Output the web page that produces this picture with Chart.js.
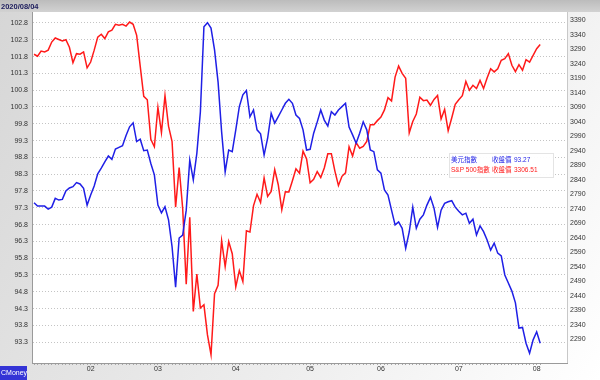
<!DOCTYPE html>
<html>
<head>
<meta charset="utf-8">
<title>美元指數 vs S&amp;P 500指數</title>
<script src="https://cdn.jsdelivr.net/npm/chart.js@4.4.1/dist/chart.umd.min.js"></script>
<style>
  html, body { margin: 0; padding: 0; background: #fff; }
  #wrap { width: 600px; height: 380px; }
</style>
</head>
<body>
<div id="wrap"><canvas id="chart" width="600" height="380"></canvas></div>
<script>
// trading days shown per month (Jan starts on the 9th)
const months = ['01', '02', '03', '04', '05', '06', '07', '08'];
const monthDays = [16, 19, 22, 21, 20, 22, 22, 2];

// US dollar index close (left axis)
const dxyClose = [
    97.45, 97.35, 97.35, 97.35, 97.26, 97.32, 97.58, 97.53, 97.55, 97.80, 97.89, 97.93, 98.05, 98.01, 97.88, 97.38,
    97.68, 97.95, 98.31, 98.48, 98.67, 98.84, 98.74, 99.05, 99.10, 99.15, 99.45, 99.71, 99.83, 99.27, 99.34, 99.00, 99.02, 98.62, 98.28,
    97.38, 97.15, 97.33, 96.94, 96.14, 94.94, 96.40, 96.49, 97.23, 98.72, 98.13, 98.92, 100.16, 102.69, 102.81, 102.65, 102.00, 101.04, 99.56, 98.37, 99.02, 98.97,
    99.62, 100.31, 100.66, 100.79, 100.01, 100.21, 99.62, 99.50, 98.87, 99.37, 100.11, 99.82, 100.01, 100.21, 100.41, 100.53, 100.41, 100.06, 99.96, 99.62, 99.02,
    99.04, 99.52, 99.85, 100.21, 99.91, 99.73, 100.16, 100.06, 100.21, 100.31, 100.41, 99.70, 99.47, 99.22, 99.52, 99.86, 99.62, 99.02, 98.97, 98.43,
    98.33, 97.83, 97.68, 97.23, 96.79, 96.88, 96.69, 96.09, 96.58, 97.32, 96.69, 96.96, 97.09, 97.38, 97.61, 97.29, 96.72, 97.23, 97.43, 97.48, 97.51, 97.32,
    97.20, 97.09, 97.14, 96.84, 96.96, 96.49, 96.76, 96.59, 96.34, 96.04, 96.25, 95.95, 95.87, 95.30, 95.06, 94.82, 94.47, 93.72, 93.74, 93.27, 92.97, 93.37,
    93.61, 93.27
];

// S&P 500 close (right axis)
const spxClose = [
    3273, 3266, 3284, 3281, 3287, 3315, 3329, 3324, 3319, 3323, 3297, 3244, 3275, 3273, 3281, 3226,
    3246, 3287, 3332, 3342, 3327, 3350, 3356, 3376, 3373, 3376, 3370, 3384, 3376, 3338, 3232, 3128, 3116, 2980, 2954,
    3090, 3003, 3130, 3025, 2972, 2746, 2882, 2741, 2480, 2711, 2386, 2515, 2398, 2409, 2305, 2237, 2447, 2476, 2630, 2541, 2627, 2585,
    2471, 2527, 2489, 2664, 2660, 2750, 2790, 2762, 2846, 2783, 2800, 2875, 2823, 2737, 2799, 2798, 2837, 2878, 2863, 2939, 2912,
    2830, 2842, 2868, 2848, 2881, 2930, 2930, 2870, 2820, 2852, 2864, 2954, 2922, 2968, 2949, 2955, 2972, 3030, 3030, 3044,
    3056, 3081, 3123, 3112, 3194, 3232, 3207, 3190, 3002, 3041, 3067, 3125, 3113, 3115, 3097, 3117, 3131, 3050, 3083, 3009, 3053, 3100,
    3116, 3130, 3179, 3149, 3166, 3155, 3183, 3155, 3191, 3223, 3212, 3223, 3252, 3258, 3275, 3235, 3213, 3237, 3218, 3254, 3246, 3269,
    3292, 3306.51
];

const leftTicks = [102.8, 102.3, 101.8, 101.3, 100.8, 100.3, 99.8, 99.3, 98.8, 98.3,
                   97.8, 97.3, 96.8, 96.3, 95.8, 95.3, 94.8, 94.3, 93.8, 93.3];
const rightTicks = [3390, 3340, 3290, 3240, 3190, 3140, 3090, 3040, 2990, 2940, 2890, 2840,
                    2790, 2740, 2690, 2640, 2590, 2540, 2490, 2440, 2390, 2340, 2290];

const headerDate = '2020/08/04';

// build the day labels: month name on the first trading day of each month
const dayLabels = [];
months.forEach((m, mi) => {
    for (let d = 0; d < monthDays[mi]; d++) {
        dayLabels.push(d === 0 && mi > 0 ? m : '');
    }
});

const tickFont = { family: '"Liberation Sans Narrow", "Liberation Sans", Arial, sans-serif', size: 7 };

// Background, header bar, CMoney tag and the close-price box
const framePlugin = {
    id: 'frame',
    beforeDraw(chart) {
        const ctx = chart.ctx;
        const a = chart.chartArea;
        ctx.save();
        const bg = ctx.createLinearGradient(0, 0, 600, 380);
        bg.addColorStop(0, '#d6d6d6');
        bg.addColorStop(0.6, '#ededed');
        bg.addColorStop(1, '#ffffff');
        ctx.fillStyle = bg;
        ctx.fillRect(0, 0, 600, 380);

        const hb = ctx.createLinearGradient(0, 0, 0, 12);
        hb.addColorStop(0, '#bcbcbc');
        hb.addColorStop(1, '#d2d2d2');
        ctx.fillStyle = hb;
        ctx.fillRect(0, 0, 600, 12);

        ctx.fillStyle = '#ffffff';
        ctx.fillRect(a.left, a.top, a.right - a.left, a.bottom - a.top);
        ctx.strokeStyle = '#c8c8c8';
        ctx.lineWidth = 1;
        ctx.beginPath();
        ctx.moveTo(a.right + 0.5, a.top);
        ctx.lineTo(a.right + 0.5, a.bottom);
        ctx.stroke();
        ctx.restore();
    },
    afterDraw(chart) {
        const ctx = chart.ctx;
        ctx.save();
        ctx.textBaseline = 'middle';

        ctx.font = 'bold 7.5px "Liberation Sans", Arial, sans-serif';
        ctx.fillStyle = '#1c1c5c';
        ctx.textAlign = 'left';
        ctx.fillText(headerDate, 1, 6.5);

        ctx.fillStyle = '#3434d6';
        ctx.fillRect(0, 366, 27, 14);
        ctx.fillStyle = '#ffffff';
        ctx.font = '7px "Liberation Sans", Arial, sans-serif';
        ctx.fillText('CMoney', 1, 373);

        // close price box
        ctx.fillStyle = 'rgba(255,255,255,0.95)';
        ctx.fillRect(449, 153, 104, 24);
        ctx.strokeStyle = '#e4e4e4';
        ctx.strokeRect(449.5, 153.5, 104, 24);
        ctx.font = '6.5px "Liberation Sans", "Noto Sans CJK TC", sans-serif';
        const rows = [
            ['美元指數', dxyClose[dxyClose.length - 1].toFixed(2), '#1f1fe6'],
            ['S&P 500指數', spxClose[spxClose.length - 1].toFixed(2), '#ff1a1a']
        ];
        rows.forEach((r, k) => {
            const y = 160.5 + k * 10;
            ctx.fillStyle = r[2];
            ctx.fillText(r[0], 451, y);
            ctx.fillText('收盤價', 492, y);
            ctx.fillText(r[1], 514, y);
        });
        ctx.restore();
    }
};

const ctx = document.getElementById('chart').getContext('2d');

new Chart(ctx, {
    type: 'line',
    data: {
        datasets: [
            {
                label: '美元指數',
                data: dxyClose.map((v, i) => ({ x: i, y: v })),
                yAxisID: 'yL',
                borderColor: '#1f1fe6',
                borderWidth: 1.5,
                pointRadius: 0,
                tension: 0
            },
            {
                label: 'S&P 500指數',
                data: spxClose.map((v, i) => ({ x: i, y: v })),
                yAxisID: 'yR',
                borderColor: '#ff1a1a',
                borderWidth: 1.5,
                pointRadius: 0,
                tension: 0
            }
        ]
    },
    options: {
        responsive: false,
        devicePixelRatio: 1,
        animation: false,
        layout: { padding: { top: 12, left: 0, right: 0, bottom: 0 } },
        plugins: {
            legend: { display: false },
            tooltip: { enabled: false },
            title: { display: false }
        },
        scales: {
            x: {
                type: 'linear',
                min: -0.57,
                max: 150.57,
                afterFit(scale) { scale.height = 17; },
                afterBuildTicks(scale) {
                    scale.ticks = dayLabels.map((_, i) => ({ value: i }));
                },
                ticks: {
                    autoSkip: false,
                    maxRotation: 0,
                    padding: 0,
                    color: '#333',
                    font: tickFont,
                    callback: (value) => dayLabels[value] || ''
                },
                grid: {
                    drawOnChartArea: false,
                    drawTicks: true,
                    tickLength: 2,
                    tickColor: '#a8a8a8'
                },
                border: { display: true, color: '#9a9a9a' }
            },
            yL: {
                type: 'linear',
                position: 'left',
                min: 92.681,
                max: 103.127,
                afterFit(scale) { scale.width = 32; },
                afterBuildTicks(scale) {
                    scale.ticks = leftTicks.map(v => ({ value: v }));
                },
                ticks: {
                    autoSkip: false,
                    padding: 4,
                    color: '#333',
                    font: tickFont,
                    callback: (value) => value.toFixed(1)
                },
                grid: {
                    color: '#c4c4c4',
                    drawTicks: false
                },
                border: { display: true, color: '#9a9a9a', dash: [1, 2] }
            },
            yR: {
                type: 'linear',
                position: 'right',
                min: 2208.3,
                max: 3418.6,
                afterFit(scale) { scale.width = 33; },
                afterBuildTicks(scale) {
                    scale.ticks = rightTicks.map(v => ({ value: v }));
                },
                ticks: {
                    autoSkip: false,
                    padding: 3,
                    color: '#333',
                    font: tickFont,
                    callback: (value) => String(value)
                },
                grid: { drawOnChartArea: false, drawTicks: false },
                border: { display: false }
            }
        }
    },
    plugins: [framePlugin]
});
</script>
</body>
</html>
